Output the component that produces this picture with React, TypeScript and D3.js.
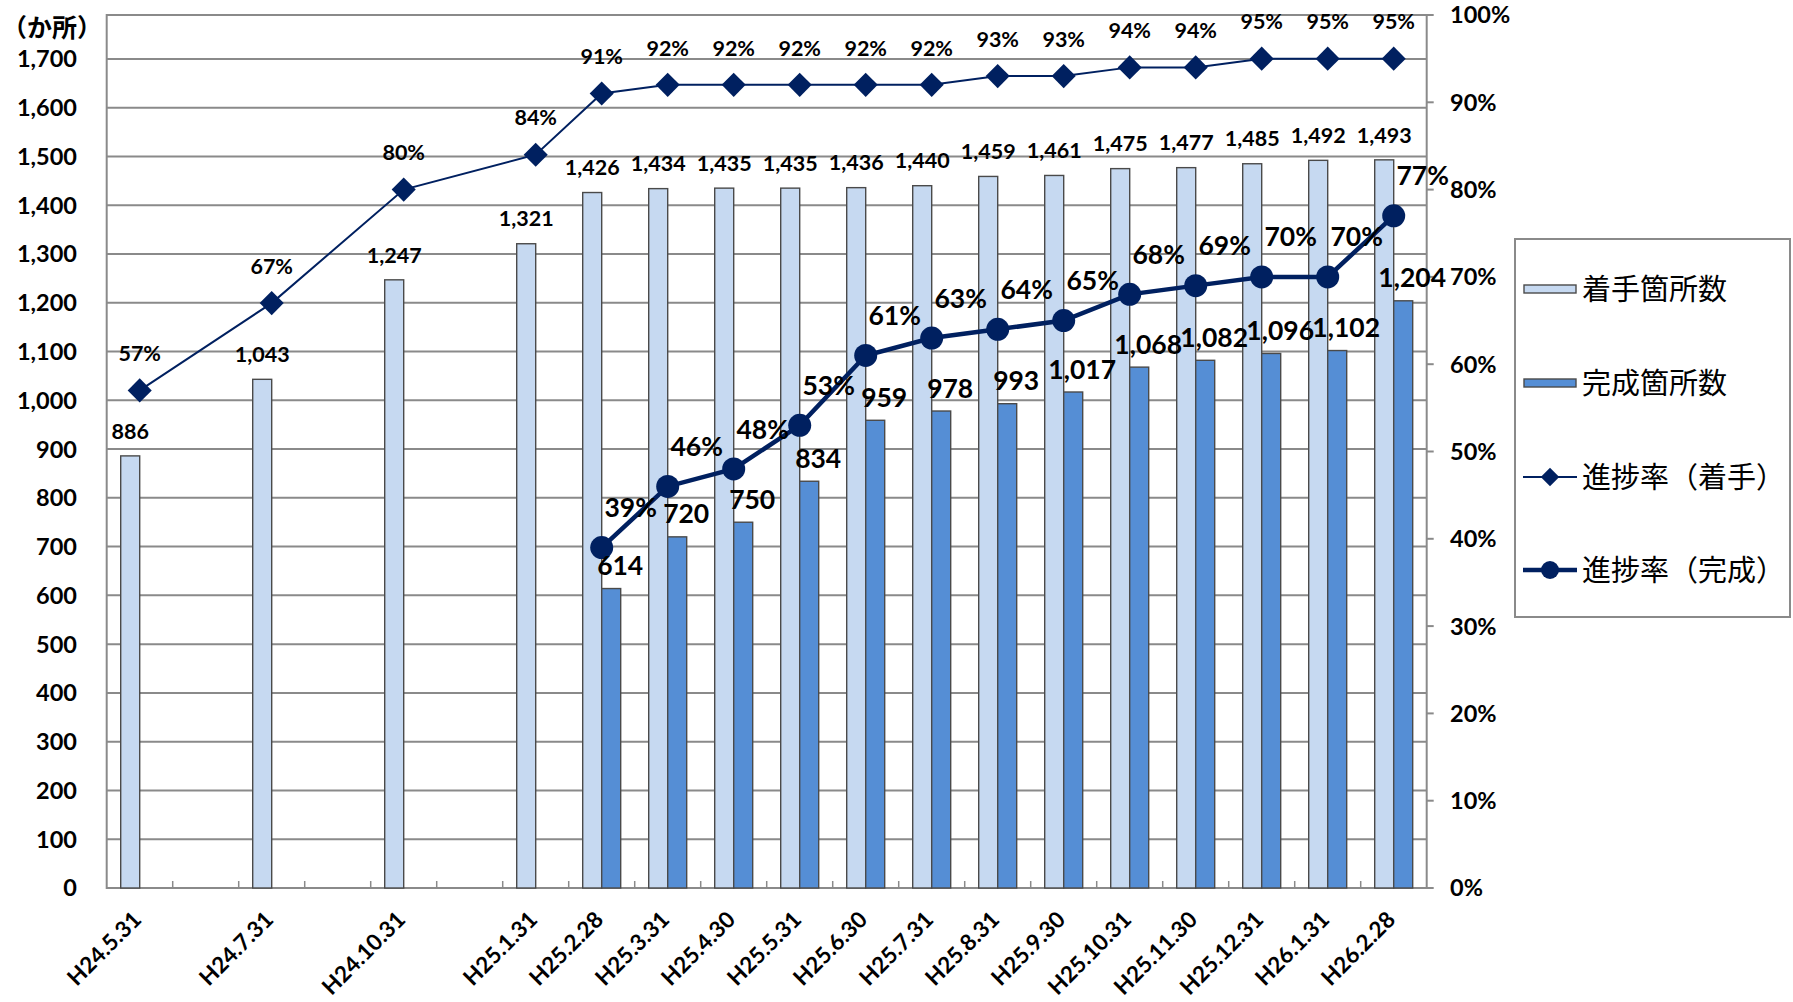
import { useMemo } from "react";
import * as d3 from "d3";

const WIDTH = 1793;
const HEIGHT = 1002;
const PLOT = { left: 106.7, right: 1426.7, top: 15, bottom: 888 };
const NUM_FONT = "Lato, 'Noto Sans', sans-serif";
const JP_FONT = "'Noto Sans CJK JP', sans-serif";
const NAVY = "#002060";
const GRID = "#8a8a8a";

// category slots (empty strings are the unlabeled gaps on the axis)
const dates = [
  "H24.5.31", "", "H24.7.31", "", "H24.10.31", "", "H25.1.31", "H25.2.28",
  "H25.3.31", "H25.4.30", "H25.5.31", "H25.6.30", "H25.7.31", "H25.8.31",
  "H25.9.30", "H25.10.31", "H25.11.30", "H25.12.31", "H26.1.31", "H26.2.28",
];
const started = [
  886, null, 1043, null, 1247, null, 1321, 1426, 1434, 1435, 1435, 1436,
  1440, 1459, 1461, 1475, 1477, 1485, 1492, 1493,
];
const completed = [
  null, null, null, null, null, null, null, 614, 720, 750, 834, 959, 978,
  993, 1017, 1068, 1082, 1096, 1102, 1204,
];
const rateStarted = [
  57, null, 67, null, 80, null, 84, 91, 92, 92, 92, 92, 92, 93, 93, 94, 94,
  95, 95, 95,
];
const rateCompleted = [
  null, null, null, null, null, null, null, 39, 46, 48, 53, 61, 63, 64, 65,
  68, 69, 70, 70, 77,
];
const countTicks = [0, 100, 200, 300, 400, 500, 600, 700, 800, 900, 1000, 1100, 1200, 1300, 1400, 1500, 1600, 1700];
const rateTicks = [0, 10, 20, 30, 40, 50, 60, 70, 80, 90, 100];
const legendLabels = ["着手箇所数", "完成箇所数", "進捗率（着手）", "進捗率（完成）"];
const unitLabel = "（か所）";

const fmt = d3.format(",");

type Pt = { i: number; v: number };

const App = () => {
  const slots = d3.range(dates.length);

  const xScale = useMemo(
    () => d3.scaleBand<number>().domain(slots).range([PLOT.left, PLOT.right]).padding(0),
    []
  );
  const subScale = useMemo(
    () =>
      d3
        .scaleBand<string>()
        .domain(["started", "completed"])
        .range([0, xScale.bandwidth()])
        .paddingInner(0)
        .paddingOuter(0.737),
    [xScale]
  );
  const yCount = useMemo(
    () => d3.scaleLinear().domain([0, 1790]).range([PLOT.bottom, PLOT.top]),
    []
  );
  const yRate = useMemo(
    () => d3.scaleLinear().domain([0, 100]).range([PLOT.bottom, PLOT.top]),
    []
  );

  const cx = (i: number) => (xScale(i) ?? 0) + xScale.bandwidth() / 2;
  const barW = subScale.bandwidth();

  const startedPts: Pt[] = rateStarted
    .map((v, i) => ({ i, v }))
    .filter((d): d is Pt => d.v !== null);
  const completedPts: Pt[] = rateCompleted
    .map((v, i) => ({ i, v }))
    .filter((d): d is Pt => d.v !== null);

  const line = d3
    .line<Pt>()
    .x((d) => cx(d.i))
    .y((d) => yRate(d.v));

  const diamond = d3.symbol().type(d3.symbolSquare).size(290)() || "";
  const diamondSmall = d3.symbol().type(d3.symbolSquare).size(170)() || "";

  // text vertically centred on y (alphabetic baseline shifted by half cap height)
  const mid = (y: number, size: number) => y + size * 0.36;

  const legendY = [289, 383, 477, 570];

  return (
    <div style={{ position: "absolute", left: 0, top: 0 }}>
      <svg width={WIDTH} height={HEIGHT} style={{ display: "block", background: "#fff" }}>
        {/* gridlines */}
        {countTicks.slice(1).map((t) => (
          <line
            key={t}
            x1={PLOT.left}
            x2={PLOT.right}
            y1={yCount(t)}
            y2={yCount(t)}
            stroke={GRID}
            strokeWidth={2}
          />
        ))}
        {/* plot border */}
        <rect
          x={PLOT.left}
          y={PLOT.top}
          width={PLOT.right - PLOT.left}
          height={PLOT.bottom - PLOT.top}
          fill="none"
          stroke={GRID}
          strokeWidth={2}
        />
        {/* category ticks */}
        {slots.slice(1).map((i) => (
          <line
            key={i}
            x1={xScale(i)}
            x2={xScale(i)}
            y1={PLOT.bottom}
            y2={PLOT.bottom - 7}
            stroke={GRID}
            strokeWidth={1.5}
          />
        ))}
        {/* right axis ticks */}
        {rateTicks.map((t) => (
          <line
            key={t}
            x1={PLOT.right}
            x2={PLOT.right + 7}
            y1={yRate(t)}
            y2={yRate(t)}
            stroke={GRID}
            strokeWidth={2}
          />
        ))}

        {/* bars */}
        {slots.map((i) => {
          const s = started[i];
          const c = completed[i];
          const x0 = xScale(i) ?? 0;
          return (
            <g key={i}>
              {s !== null && (
                <rect
                  x={x0 + (subScale("started") ?? 0)}
                  y={yCount(s)}
                  width={barW}
                  height={yCount(0) - yCount(s)}
                  fill="#C6D9F1"
                  stroke="#4a4a4a"
                  strokeWidth={1.4}
                />
              )}
              {c !== null && (
                <rect
                  x={x0 + (subScale("completed") ?? 0)}
                  y={yCount(c)}
                  width={barW}
                  height={yCount(0) - yCount(c)}
                  fill="#558ED5"
                  stroke="#4a4a4a"
                  strokeWidth={1.4}
                />
              )}
            </g>
          );
        })}

        {/* lines */}
        <path d={line(startedPts) || ""} fill="none" stroke={NAVY} strokeWidth={2} />
        <path d={line(completedPts) || ""} fill="none" stroke={NAVY} strokeWidth={4.5} />
        {startedPts.map((d) => (
          <path
            key={d.i}
            d={diamond}
            transform={`translate(${cx(d.i)},${yRate(d.v)}) rotate(45)`}
            fill={NAVY}
          />
        ))}
        {completedPts.map((d) => (
          <circle key={d.i} cx={cx(d.i)} cy={yRate(d.v)} r={11.5} fill={NAVY} />
        ))}

        {/* left axis labels */}
        {countTicks.map((t) => (
          <text
            key={t}
            x={77}
            y={mid(yCount(t), 23.5)}
            textAnchor="end"
            fontFamily={NUM_FONT}
            fontWeight={700}
            fontSize={23.5}
          >
            {fmt(t)}
          </text>
        ))}
        <text
          x={102}
          y={mid(28, 25)}
          textAnchor="end"
          fontFamily={JP_FONT}
          fontWeight={700}
          fontSize={25}
        >
          {unitLabel}
        </text>

        {/* right axis labels */}
        {rateTicks.map((t) => (
          <text
            key={t}
            x={1450}
            y={mid(yRate(t), 23.5)}
            textAnchor="start"
            fontFamily={NUM_FONT}
            fontWeight={700}
            fontSize={23.5}
          >
            {`${t}%`}
          </text>
        ))}

        {/* x axis labels */}
        {slots.map((i) =>
          dates[i] ? (
            <text
              key={i}
              transform={`translate(${cx(i) + 3},${921}) rotate(-45)`}
              textAnchor="end"
              fontFamily={NUM_FONT}
              fontWeight={700}
              fontSize={22.5}
            >
              {dates[i]}
            </text>
          ) : null
        )}

        {/* data labels: started */}
        {slots.map((i) => {
          const s = started[i];
          if (s === null) return null;
          const bx = (xScale(i) ?? 0) + (subScale("started") ?? 0) + barW / 2;
          return (
            <text
              key={i}
              x={bx}
              y={mid(yCount(s) - 25, 21.5)}
              textAnchor="middle"
              fontFamily={NUM_FONT}
              fontWeight={700}
              fontSize={21.5}
            >
              {fmt(s)}
            </text>
          );
        })}
        {startedPts.map((d) => (
          <text
            key={d.i}
            x={cx(d.i)}
            y={mid(yRate(d.v) - 37, 21.5)}
            textAnchor="middle"
            fontFamily={NUM_FONT}
            fontWeight={700}
            fontSize={21.5}
          >
            {`${d.v}%`}
          </text>
        ))}

        {/* data labels: completed */}
        {slots.map((i) => {
          const c = completed[i];
          if (c === null) return null;
          const bx = (xScale(i) ?? 0) + (subScale("completed") ?? 0) + barW / 2;
          return (
            <text
              key={i}
              x={bx + 9}
              y={mid(yCount(c) - 23, 26.5)}
              textAnchor="middle"
              fontFamily={NUM_FONT}
              fontWeight={700}
              fontSize={26.5}
            >
              {fmt(c)}
            </text>
          );
        })}
        {completedPts.map((d) => (
          <text
            key={d.i}
            x={cx(d.i) + 29}
            y={mid(yRate(d.v) - 40, 26.5)}
            textAnchor="middle"
            fontFamily={NUM_FONT}
            fontWeight={700}
            fontSize={26.5}
          >
            {`${d.v}%`}
          </text>
        ))}

        {/* legend */}
        <rect x={1515} y={239} width={275} height={378} fill="#fff" stroke={GRID} strokeWidth={2} />
        <rect x={1524} y={legendY[0] - 4} width={52} height={8} fill="#C6D9F1" stroke="#4a4a4a" strokeWidth={1.4} />
        <rect x={1524} y={legendY[1] - 4} width={52} height={8} fill="#558ED5" stroke="#4a4a4a" strokeWidth={1.4} />
        <line x1={1523} x2={1577} y1={legendY[2]} y2={legendY[2]} stroke={NAVY} strokeWidth={2} />
        <path d={diamondSmall} transform={`translate(1550,${legendY[2]}) rotate(45)`} fill={NAVY} />
        <line x1={1523} x2={1577} y1={legendY[3]} y2={legendY[3]} stroke={NAVY} strokeWidth={4.5} />
        <circle cx={1550} cy={legendY[3]} r={9} fill={NAVY} />
        {legendLabels.map((label, k) => (
          <text
            key={label}
            x={1582}
            y={legendY[k] + 10.5}
            fontFamily={JP_FONT}
            fontSize={29}
            fill="#000"
          >
            {label}
          </text>
        ))}
      </svg>
    </div>
  );
};

export default App;
